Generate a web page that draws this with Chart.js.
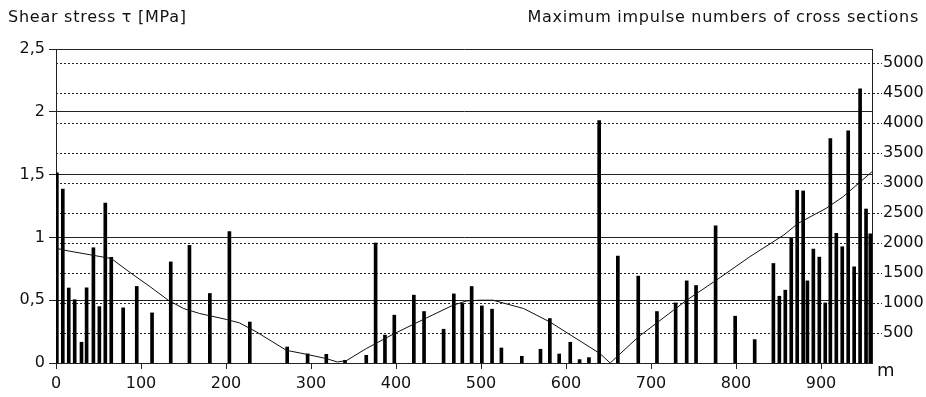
<!DOCTYPE html>
<html>
<head>
<meta charset="utf-8">
<script src="https://cdn.jsdelivr.net/npm/chart.js@4.4.1/dist/chart.umd.min.js"></script>
<style>
  body{ margin:0; background:#fff; }
  #wrap{ position:relative; width:926px; height:397px; }
  .lbl{ position:absolute; font-family:"DejaVu Sans",sans-serif; font-size:16px; color:#111; white-space:nowrap; letter-spacing:0.75px; }
</style>
</head>
<body>
<div id="wrap">
  <canvas id="chart"></canvas>
  <div class="lbl" style="left:8px;top:7px;">Shear stress τ [MPa]</div>
  <div class="lbl" style="right:7px;top:7px;">Maximum impulse numbers of cross sections</div>
  <div class="lbl" style="left:877px;top:359px;font-size:18px;letter-spacing:0;">m</div>
</div>
<script>

// ============================
// DATA
// ============================

// cross section positions along the line [m]
const barPos = [1,8,15,22,30,36,44,51,58,65,79,95,113,135,157,181,204,228,272,296,
  318,340,365,376,387,398,421,433,456,468,478,489,501,513,524,548,570,581,592,605,
  616,627,639,661,685,707,729,742,753,776,799,822,844,851,858,865,872,879,884,891,
  898,905,911,918,925,932,939,946,953,958];

// maximum impulse numbers (right axis)
const barVal = [3170,2900,1250,1055,346,1253,1921,940,2667,1762,919,1276,835,1685,1960,1159,2190,683,267,152,
  145,45,128,2000,465,797,1131,858,563,1152,992,1275,952,897,250,112,229,741,150,346,
  57,90,4041,1782,1448,858,1002,1369,1292,2288,780,390,1659,1113,1214,2077,2879,2868,1369,1899,
  1765,1002,3741,2161,1938,3870,1603,4571,2567,2154];

// shear stress curve (left axis)
const tauPos = [0,9,65,86,111,132,150,169,201,216,236,271,295,318,331,342,365,398,432,467,
  483,499,514,550,581,640,652,685,742,777,816,856,873,906,926,960];
const tauVal = [0.915,0.899,0.832,0.726,0.606,0.5,0.434,0.394,0.346,0.319,0.247,0.101,0.069,0.035,0.008,0.02,0.115,0.234,0.346,0.46,
  0.494,0.5,0.5,0.434,0.327,0.075,0.0,0.207,0.5,0.66,0.845,1.018,1.112,1.231,1.324,1.523];

const xTicks = [0,100,200,300,400,500,600,700,800,900];
const leftTicks = [0,0.5,1,1.5,2,2.5];
const rightTicks = [500,1000,1500,2000,2500,3000,3500,4000,4500,5000];


// ============================
// CHART
// ============================

const font = { family:"DejaVu Sans", size:16 };

function setTicks(list){
  return scale => { scale.ticks = list.map(v=>({value:v})); };
}

new Chart(document.getElementById("chart"),{
  type:"bar",
  data:{
    datasets:[
      {
        type:"line",
        data:tauPos.map((p,i)=>({x:p,y:tauVal[i]})),
        yAxisID:"yL",
        borderColor:"#111",
        borderWidth:1,
        pointRadius:0,
        tension:0,
        order:0
      },
      {
        type:"bar",
        data:barPos.map((p,i)=>({x:p,y:barVal[i]})),
        yAxisID:"yR",
        backgroundColor:"#000",
        barThickness:3,
        order:1
      }
    ]
  },
  options:{
    responsive:true,
    maintainAspectRatio:false,
    animation:false,
    layout:{ padding:{ top:49, left:0, right:0, bottom:0 } },
    plugins:{ legend:{display:false}, tooltip:{enabled:false} },
    scales:{
      x:{
        type:"linear",
        min:0, max:960,
        offset:false,
        afterBuildTicks:setTicks(xTicks),
        afterFit:s=>{ s.height = 34; },
        grid:{ offset:false, drawOnChartArea:false, tickLength:6, color:"#222" },
        border:{ display:true, color:"#222", width:1 },
        ticks:{ font:font, color:"#111", padding:5, maxRotation:0, callback:v=>String(v) }
      },
      yL:{
        position:"left",
        min:0, max:2.5,
        afterBuildTicks:setTicks(leftTicks),
        afterFit:s=>{ s.width = 56; },
        grid:{ color:"#222", lineWidth:1, tickLength:7 },
        border:{ display:true, color:"#222", width:1 },
        ticks:{ font:font, color:"#111", padding:4, callback:v=>String(v).replace(".",",") }
      },
      yR:{
        position:"right",
        min:0, max:5234,
        afterBuildTicks:setTicks(rightTicks),
        afterFit:s=>{ s.width = 54; },
        grid:{ color:"#222", lineWidth:1, tickLength:10, tickBorderDash:[2,2] },
        border:{ display:true, color:"#222", width:1, dash:[2,2] },
        ticks:{ font:font, color:"#111", padding:1, callback:v=>String(v) }
      }
    }
  }
});
</script>
</body>
</html>
